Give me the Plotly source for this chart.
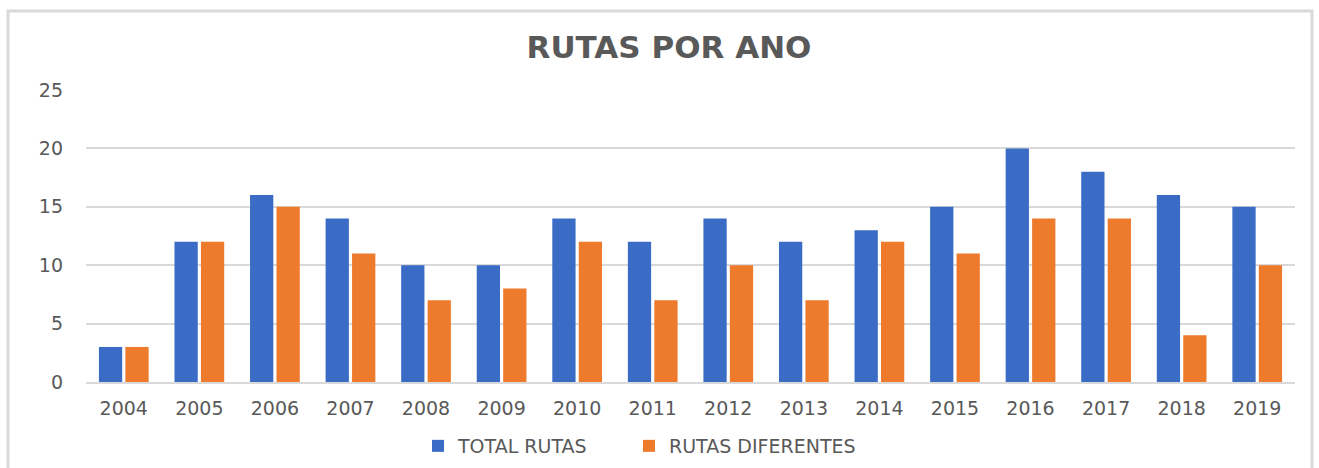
import plotly.graph_objects as go

years = ["2004", "2005", "2006", "2007", "2008", "2009", "2010", "2011",
         "2012", "2013", "2014", "2015", "2016", "2017", "2018", "2019"]
total_rutas = [3, 12, 16, 14, 10, 10, 14, 12, 14, 12, 13, 15, 20, 18, 16, 15]
rutas_diferentes = [3, 12, 15, 11, 7, 8, 12, 7, 10, 7, 12, 11, 14, 14, 4, 10]
y_ticks = [0, 5, 10, 15, 20, 25]

W, H = 1319, 468
L, R, T, B = 86, 24, 90, 86
pw, ph = W - L - R, H - T - B

def px_x(p):
    return (p - L) / pw

def px_y(p):
    return (H - B - p) / ph

font_fam = "DejaVu Sans, sans-serif"
gray = "#595959"

fig = go.Figure()
fig.add_trace(go.Bar(x=years, y=total_rutas, name="TOTAL RUTAS",
                     marker=dict(color="#3a6cc6", line=dict(width=0)),
                     legend="legend", showlegend=True))
fig.add_trace(go.Bar(x=years, y=rutas_diferentes, name="RUTAS DIFERENTES",
                     marker=dict(color="#ee7a2c", line=dict(width=0)),
                     legend="legend2", showlegend=True))

leg_common = dict(orientation="h", xanchor="left", y=px_y(446), yanchor="middle",
                  font=dict(size=19, color=gray), itemwidth=30,
                  bgcolor="rgba(0,0,0,0)")

fig.update_layout(
    width=W, height=H,
    showlegend=True,
    margin=dict(l=L, r=R, t=T, b=B, autoexpand=False),
    paper_bgcolor="white", plot_bgcolor="white",
    barmode="group", bargap=0.3, bargroupgap=0.12,
    title=dict(text="<b>RUTAS POR ANO</b>", x=px_x(669), xref="paper", xanchor="center",
               y=1 - 47 / H, yanchor="middle",
               font=dict(family=font_fam, size=31, color=gray)),
    font=dict(family=font_fam, color=gray),
    legend=dict(x=px_x(418), **leg_common),
    legend2=dict(x=px_x(629), **leg_common),
    xaxis=dict(showgrid=False, showline=True, linecolor="#d9d9d9", linewidth=1.5,
               ticks="", tickfont=dict(size=19, color=gray), ticklabelstandoff=8),
    yaxis=dict(range=[0, 25], tickvals=y_ticks, showgrid=True, gridcolor="#d9d9d9",
               gridwidth=1.5, zeroline=False, showline=False, ticks="",
               tickfont=dict(size=19, color=gray), ticklabelstandoff=22),
    shapes=[dict(type="rect", xref="paper", yref="paper",
                 x0=px_x(8), x1=px_x(1312), y0=px_y(472), y1=px_y(11),
                 line=dict(color="#d9d9d9", width=3), fillcolor="rgba(0,0,0,0)",
                 layer="below")],
)

fig.write_html("out.html", config={"displayModeBar": False},
               post_script="document.body.style.margin='0';document.body.style.overflow='hidden';")
